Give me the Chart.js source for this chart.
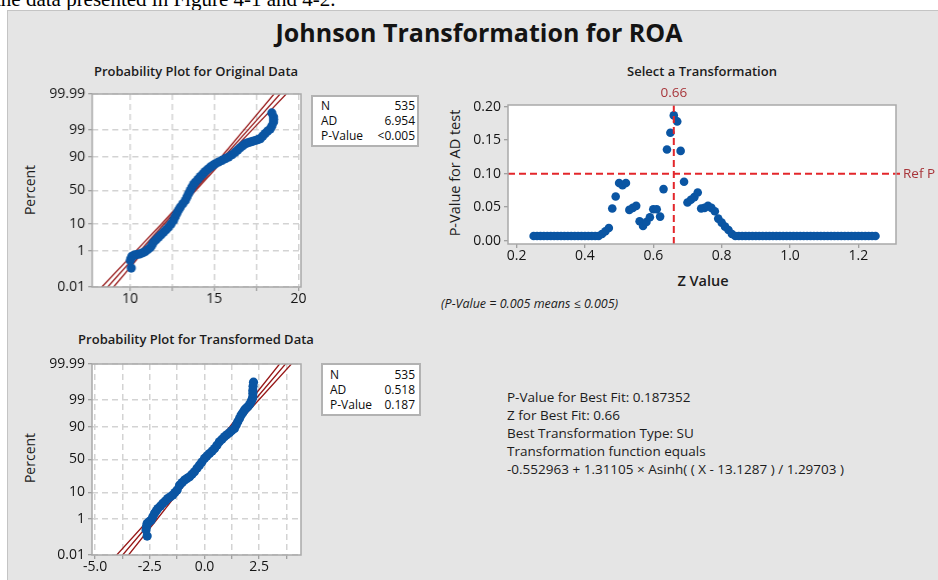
<!DOCTYPE html>
<html>
<head>
<meta charset="utf-8">
<script src="https://cdn.jsdelivr.net/npm/chart.js@4.4.0/dist/chart.umd.min.js"></script>
<style>
  html, body { margin: 0; padding: 0; background: #fff; }
  body { width: 938px; height: 580px; position: relative; overflow: hidden;
         font-family: 'Open Sans', sans-serif; color: #1c1c1c; }
  #panel { position: absolute; left: 7px; top: 10px; width: 960px; height: 600px;
           background: #e5e5e5; border-left: 1px solid #c4c4c4; border-top: 1px solid #c4c4c4; }
  canvas { position: absolute; }
  .t { position: absolute; white-space: nowrap; line-height: 1; }
  .c { transform: translate(-50%, -50%); }
  .l { transform: translate(0, -50%); }
  .rot { transform: translate(-50%, -50%) rotate(-90deg); }
  .stat { position: absolute; background: #fff; border: 2px solid #b2b2b2; box-sizing: border-box;
          font-size: 12px; line-height: 15px; color: #0d0d0d; }
  .stat div { display: flex; justify-content: space-between; }
</style>
</head>
<body>
<div class="t" style="left:-5px; top:-11px; font-family:'Liberation Serif', serif; font-size:21px; line-height:21px; color:#000;">the data presented in Figure 4-1 and 4-2.</div>
<div id="panel"></div>

<div class="t c" style="left:479px; top:32px; font-size:25px; font-weight:700; color:#141414;">Johnson Transformation for ROA</div>
<div class="t c" style="left:196px; top:71px; font-size:13px; font-weight:600;">Probability Plot for Original Data</div>
<div class="t c" style="left:702px; top:71px; font-size:13px; font-weight:600;">Select a Transformation</div>
<div class="t c" style="left:196px; top:339px; font-size:13px; font-weight:600;">Probability Plot for Transformed Data</div>

<div class="t rot" style="left:30px; top:190px; font-size:14px;">Percent</div>
<div class="t rot" style="left:30px; top:458px; font-size:14px;">Percent</div>
<div class="t rot" style="left:455px; top:173px; font-size:14.5px;">P-Value for AD test</div>
<div class="t c" style="left:703px; top:281px; font-size:14.5px; font-weight:600;">Z Value</div>
<div class="t l" style="left:441px; top:304px; font-size:12.5px; font-style:italic;">(P-Value = 0.005 means &le; 0.005)</div>

<div class="stat" style="left:311px; top:95px; width:108px; height:52px; padding:1px 2px 0 8px;">
  <div><span>N</span><span>535</span></div>
  <div><span>AD</span><span>6.954</span></div>
  <div><span>P-Value</span><span>&lt;0.005</span></div>
</div>
<div class="stat" style="left:321px; top:363px; width:100px; height:53px; padding:2px 4px 0 7px;">
  <div><span>N</span><span>535</span></div>
  <div><span>AD</span><span>0.518</span></div>
  <div><span>P-Value</span><span>0.187</span></div>
</div>

<div class="t l" style="left:507px; top:398px; font-size:13.5px;">P-Value for Best Fit: 0.187352</div>
<div class="t l" style="left:507px; top:416px; font-size:13.5px;">Z for Best Fit: 0.66</div>
<div class="t l" style="left:507px; top:434px; font-size:13.5px;">Best Transformation Type: SU</div>
<div class="t l" style="left:507px; top:452px; font-size:13.5px;">Transformation function equals</div>
<div class="t l" style="left:507px; top:470px; font-size:13.5px;">-0.552963 + 1.31105 &times; Asinh( ( X - 13.1287 ) / 1.29703 )</div>

<canvas id="cOrig"></canvas>
<canvas id="cTrans"></canvas>
<canvas id="cSel"></canvas>

<script>
// probability plot: original ROA data (x value, cumulative percent)
const origX   = [10.07, 10.01, 10.06, 10.11, 10.22, 10.33, 10.46, 10.60, 10.75, 10.90, 11.05, 11.20, 11.30,
                 11.39, 11.54, 11.69, 11.84, 11.99, 12.14, 12.28, 12.43, 12.58, 12.68, 12.78, 12.88, 12.98,
                 13.13, 13.28, 13.38, 13.47, 13.57, 13.67, 13.77, 13.87, 14.02, 14.17, 14.32, 14.46, 14.61,
                 14.76, 14.91, 15.06, 15.25, 15.45, 15.65, 15.85, 16.05, 16.24, 16.39, 16.54, 16.69, 16.84,
                 16.98, 17.13, 17.28, 17.43, 17.58, 17.73, 17.88, 18.02, 18.17, 18.32, 18.42, 18.52, 18.53,
                 18.52, 18.42];
const origPct = [0.14, 0.35, 0.45, 0.56, 0.62, 0.66, 0.70, 0.73, 0.82, 0.93, 1.15, 1.4, 1.8,
                 2.3, 2.9, 3.6, 4.4, 5.4, 6.5, 7.8, 9.8, 12.3, 15.5, 19, 22.5, 26,
                 30.5, 35, 40, 45, 50, 55, 59, 62.5, 66.5, 70.5, 73.8, 76.8, 79.3,
                 81.6, 83.3, 84.8, 86.3, 87.7, 89, 90.1, 91.6, 93.0, 94.1, 95.0, 95.8, 96.4,
                 96.7, 96.9, 97.1, 97.3, 97.5, 97.7, 98.2, 98.6, 98.9, 99.1, 99.35, 99.59, 99.69,
                 99.77, 99.86];

// probability plot: transformed data
const trX   = [-2.62, -2.67, -2.65, -2.62, -2.53, -2.44, -2.36, -2.28, -2.20, -2.13, -2.01, -1.90, -1.79,
               -1.68, -1.56, -1.45, -1.35, -1.25, -1.14, -1.02, -0.91, -0.80, -0.68, -0.57, -0.46, -0.34,
               -0.23, -0.12, 0.0, 0.11, 0.23, 0.35, 0.46, 0.57, 0.68, 0.80, 0.91, 1.02, 1.14, 1.25, 1.37,
               1.45, 1.52, 1.60, 1.67, 1.75, 1.83, 1.90, 1.98, 2.06, 2.13, 2.18, 2.21, 2.21, 2.21, 2.22, 2.24];
const trPct = [0.144, 0.30, 0.45, 0.64, 0.77, 0.91, 1.3, 1.8, 2.3, 2.8, 3.5, 4.4, 5.3,
               6.4, 7.3, 8.3, 9.9, 11.7, 15.9, 18.5, 21.2, 23.1, 25.1, 28.2, 31.6, 36.5,
               41.3, 46, 51.6, 55.5, 59.2, 63, 66.6, 71, 75.5, 78.4, 81.1, 83.2, 85.1, 87, 88.7,
               91, 92.9, 94.5, 95.8, 96.6, 97.3, 97.7, 98.0, 98.4, 98.76, 99.05, 99.27, 99.5, 99.65, 99.78, 99.87];

// fitted line and confidence bands, x at these percents
const fitPct = [0.01, 1, 10, 50, 90, 99, 99.99];
const origFit = [8.67, 10.59, 12.03, 13.79, 15.55, 16.99, 18.91];
const origLo  = [8.32, 10.35, 11.88, 13.69, 15.40, 16.75, 18.55];
const origHi  = [9.02, 10.83, 12.18, 13.89, 15.70, 17.23, 19.27];
const trFit = [-3.74, -2.35, -1.30, -0.02, 1.26, 2.31, 3.70];
const trLo  = [-4.01, -2.53, -1.41, -0.11, 1.16, 2.13, 3.43];
const trHi  = [-3.47, -2.17, -1.20, 0.07, 1.37, 2.49, 3.97];

// axis ticks
const pctTicks  = [0.01, 1, 10, 50, 90, 99, 99.99];
const pctLabels = ['0.01', '1', '10', '50', '90', '99', '99.99'];
const origXTicks  = [10, 12.5, 15, 17.5, 20];
const origXLabels = ['10', '', '15', '', '20'];
const trXTicks  = [-5, -3.75, -2.5, -1.25, 0, 1.25, 2.5, 3.75];
const trXLabels = ['-5.0', '', '-2.5', '', '0.0', '', '2.5', ''];

// select a transformation: z value vs AD p-value
const zVals = [0.25, 0.26, 0.27, 0.28, 0.29, 0.30, 0.31, 0.32, 0.33, 0.34, 0.35, 0.36, 0.37, 0.38, 0.39,
               0.40, 0.41, 0.42, 0.43, 0.44, 0.45, 0.46, 0.47, 0.48, 0.49, 0.50, 0.51, 0.52, 0.53, 0.54,
               0.55, 0.56, 0.57, 0.58, 0.59, 0.60, 0.61, 0.62, 0.63, 0.64, 0.65, 0.66, 0.67, 0.68, 0.69,
               0.70, 0.71, 0.72, 0.73, 0.74, 0.75, 0.76, 0.77, 0.78, 0.79, 0.80, 0.81, 0.82, 0.83, 0.84,
               0.85, 0.86, 0.87, 0.88, 0.89, 0.90, 0.91, 0.92, 0.93, 0.94, 0.95, 0.96, 0.97, 0.98, 0.99,
               1.00, 1.01, 1.02, 1.03, 1.04, 1.05, 1.06, 1.07, 1.08, 1.09, 1.10, 1.11, 1.12, 1.13, 1.14,
               1.15, 1.16, 1.17, 1.18, 1.19, 1.20, 1.21, 1.22, 1.23, 1.24, 1.25];
const pVals = [0.007, 0.007, 0.007, 0.007, 0.007, 0.007, 0.007, 0.007, 0.007, 0.007, 0.007, 0.007, 0.007, 0.007, 0.007,
               0.007, 0.007, 0.007, 0.007, 0.007, 0.010, 0.014, 0.019, 0.048, 0.066, 0.086, 0.083, 0.086, 0.046, 0.049,
               0.052, 0.029, 0.022, 0.028, 0.035, 0.047, 0.047, 0.036, 0.077, 0.136, 0.161, 0.187, 0.178, 0.134, 0.088,
               0.057, 0.061, 0.065, 0.072, 0.048, 0.049, 0.052, 0.049, 0.044, 0.033, 0.027, 0.021, 0.016, 0.010, 0.007,
               0.007, 0.007, 0.007, 0.007, 0.007, 0.007, 0.007, 0.007, 0.007, 0.007, 0.007, 0.007, 0.007, 0.007, 0.007,
               0.007, 0.007, 0.007, 0.007, 0.007, 0.007, 0.007, 0.007, 0.007, 0.007, 0.007, 0.007, 0.007, 0.007, 0.007,
               0.007, 0.007, 0.007, 0.007, 0.007, 0.007, 0.007, 0.007, 0.007, 0.007, 0.007];
const selXTicks  = [0.2, 0.4, 0.6, 0.8, 1.0, 1.2];
const selXLabels = ['0.2', '0.4', '0.6', '0.8', '1.0', '1.2'];
const selYTicks  = [0, 0.05, 0.10, 0.15, 0.20];
const selYLabels = ['0.00', '0.05', '0.10', '0.15', '0.20'];
const bestZ = 0.66;
const refP = 0.10;

const BLUE = '#0a55a3';
const FITRED = '#981818';
const TICKFONT = { family: 'Open Sans', size: 14 };
const TICKCOL = '#151515';

// inverse normal cdf, used for the probability (percent) axis
function probit(p) {
  const a = [-39.69683028665376, 220.9460984245205, -275.9285104469687, 138.3577518672690, -30.66479806614716, 2.506628277459239];
  const b = [-54.47609879822406, 161.5858368580409, -155.6989798598866, 66.80131188771972, -13.28068155288572];
  const c = [-0.007784894002430293, -0.3223964580411365, -2.400758277161838, -2.549732539343734, 4.374664141464968, 2.938163982698783];
  const d = [0.007784695709041462, 0.3224671290700398, 2.445134137142996, 3.754408661907416];
  const pl = 0.02425;
  let q, r;
  if (p < pl) {
    q = Math.sqrt(-2 * Math.log(p));
    return (((((c[0]*q+c[1])*q+c[2])*q+c[3])*q+c[4])*q+c[5]) / ((((d[0]*q+d[1])*q+d[2])*q+d[3])*q+1);
  }
  if (p > 1 - pl) {
    q = Math.sqrt(-2 * Math.log(1 - p));
    return -(((((c[0]*q+c[1])*q+c[2])*q+c[3])*q+c[4])*q+c[5]) / ((((d[0]*q+d[1])*q+d[2])*q+d[3])*q+1);
  }
  q = p - 0.5; r = q * q;
  return (((((a[0]*r+a[1])*r+a[2])*r+a[3])*r+a[4])*r+a[5])*q / (((((b[0]*r+b[1])*r+b[2])*r+b[3])*r+b[4])*r+1);
}

// size the canvas so that the chart area lands on the box l/t/r/b
function place(cv, b) {
  const w = (b.r - b.l) + b.ml + b.mr, h = (b.b - b.t) + b.mt + b.mb;
  cv.width = w; cv.height = h;
  cv.style.left = (b.l - b.ml) + 'px'; cv.style.top = (b.t - b.mt) + 'px';
  cv.style.width = w + 'px'; cv.style.height = h + 'px';
}

// white plot area + grey frame
const framePlugin = {
  id: 'frame',
  beforeDraw(chart) {
    const a = chart.chartArea, ctx = chart.ctx;
    ctx.save(); ctx.fillStyle = '#fff';
    ctx.fillRect(a.left, a.top, a.right - a.left, a.bottom - a.top);
    ctx.restore();
  },
  afterDraw(chart) {
    const a = chart.chartArea, ctx = chart.ctx;
    ctx.save(); ctx.strokeStyle = '#a9a9a9'; ctx.lineWidth = 1.5;
    ctx.strokeRect(a.left, a.top, a.right - a.left, a.bottom - a.top);
    ctx.restore();
  }
};

function axisOpts(min, max, ticks, labels, fix, grid, pad) {
  return {
    type: 'linear', min: min, max: max,
    afterBuildTicks: ax => { ax.ticks = ticks.map(v => ({ value: v })); },
    afterFit: fix,
    ticks: { callback: (v, i) => labels[i], autoSkip: false, maxRotation: 0, padding: pad,
             font: TICKFONT, color: TICKCOL },
    grid: Object.assign({ color: '#d3d3d3', lineWidth: 1.5, tickColor: '#8a8a8a', tickLength: 4,
                          tickWidth: 1, tickBorderDash: [] }, grid || {}),
    border: { display: false, dash: [6, 4] }
  };
}

function probChart(id, box, xr, xTicks, xLabels, px, pp, fitX, loX, hiX) {
  const cv = document.getElementById(id);
  place(cv, box);
  const toPts = (xs, ps) => xs.map((x, i) => ({ x: x, y: probit(ps[i] / 100) }));
  const line = xs => ({ data: toPts(xs, fitPct), showLine: true, borderColor: FITRED, borderWidth: 1.3,
                        pointRadius: 0, order: 1, clip: 0 });
  const zr = probit(0.0001);
  return new Chart(cv, {
    type: 'scatter',
    data: { datasets: [
      { data: toPts(px, pp), pointRadius: 4.6, backgroundColor: BLUE, borderWidth: 0, order: 0 },
      line(fitX), line(loX), line(hiX)
    ]},
    options: {
      responsive: false, animation: false, events: [],
      layout: { padding: { left: 0, top: box.mt, right: box.mr, bottom: 0 } },
      plugins: { legend: { display: false }, tooltip: { enabled: false } },
      scales: {
        x: axisOpts(xr[0], xr[1], xTicks, xLabels, ax => { ax.height = box.mb; }, null, 0),
        y: axisOpts(-zr, zr, pctTicks.map(p => probit(p / 100)), pctLabels, ax => { ax.width = box.ml; }, null, 3)
      }
    },
    plugins: [framePlugin]
  });
}

probChart('cOrig', { l: 92, t: 94, r: 300.5, b: 287, ml: 60, mt: 12, mr: 14, mb: 26 },
          [7.75, 20.15], origXTicks, origXLabels, origX, origPct, origFit, origLo, origHi);
probChart('cTrans', { l: 92, t: 364, r: 301.3, b: 555.3, ml: 60, mt: 12, mr: 14, mb: 24 },
          [-5.14, 4.41], trXTicks, trXLabels, trX, trPct, trFit, trLo, trHi);

// reference lines on the selection plot
const refPlugin = {
  id: 'refs',
  afterDatasetsDraw(chart) {
    const { ctx, chartArea: a, scales: { x, y } } = chart;
    const xp = x.getPixelForValue(bestZ), yp = y.getPixelForValue(refP);
    ctx.save();
    ctx.strokeStyle = '#e3262b'; ctx.lineWidth = 2; ctx.setLineDash([7, 4]);
    ctx.beginPath(); ctx.moveTo(xp, a.top); ctx.lineTo(xp, a.bottom); ctx.stroke();
    ctx.beginPath(); ctx.moveTo(a.left, yp); ctx.lineTo(a.right + 4, yp); ctx.stroke();
    ctx.fillStyle = '#a8353a'; ctx.font = '13.5px "Open Sans"'; ctx.textBaseline = 'middle';
    ctx.textAlign = 'center'; ctx.fillText(bestZ.toFixed(2), xp, a.top - 12);
    ctx.textAlign = 'left'; ctx.fillText('Ref P', a.right + 7, yp);
    ctx.restore();
  }
};

(function () {
  const box = { l: 508, t: 105, r: 896, b: 244, ml: 60, mt: 24, mr: 45, mb: 22 };
  const cv = document.getElementById('cSel');
  place(cv, box);
  new Chart(cv, {
    type: 'scatter',
    data: { datasets: [{ data: zVals.map((z, i) => ({ x: z, y: pVals[i] })),
                         pointRadius: 4.3, backgroundColor: BLUE, borderWidth: 0 }] },
    options: {
      responsive: false, animation: false, events: [],
      layout: { padding: { left: 0, top: box.mt, right: box.mr, bottom: 0 } },
      plugins: { legend: { display: false }, tooltip: { enabled: false } },
      scales: {
        x: axisOpts(0.175, 1.31, selXTicks, selXLabels, ax => { ax.height = box.mb; }, { drawOnChartArea: false }, 0),
        y: axisOpts(-0.0049, 0.2025, selYTicks, selYLabels, ax => { ax.width = box.ml; }, { drawOnChartArea: false }, 3)
      }
    },
    plugins: [framePlugin, refPlugin]
  });
})();
</script>
</body>
</html>
